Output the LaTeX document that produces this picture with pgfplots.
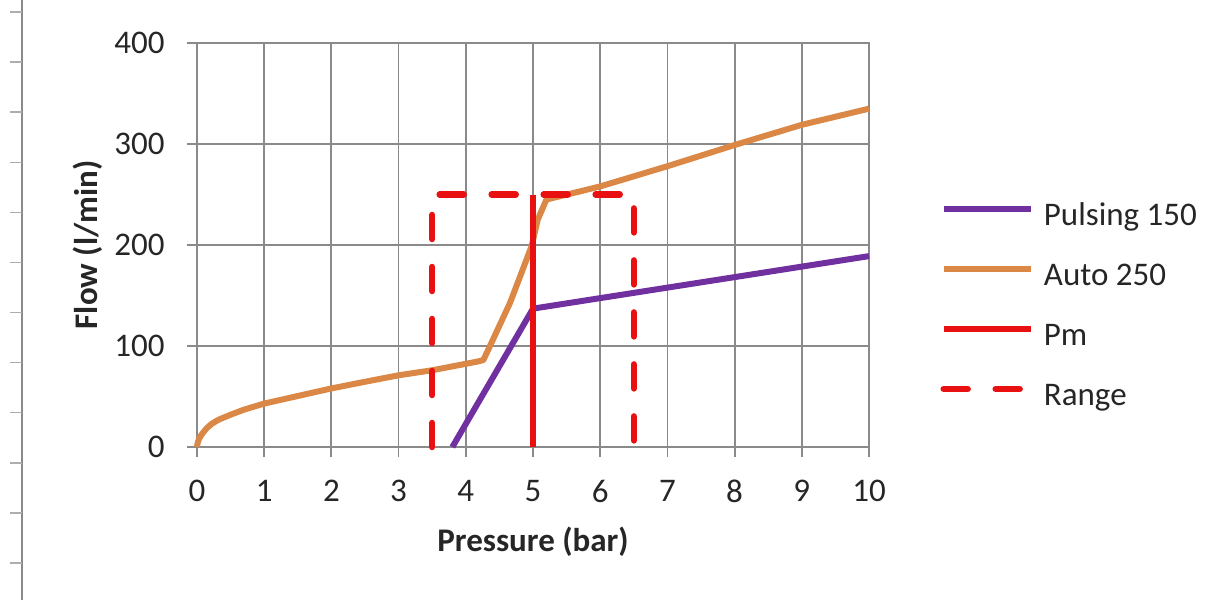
\documentclass[border=0pt]{standalone}
\usepackage{fontspec}
\setmainfont{Carlito}
\usepackage{pgfplots}
\pgfplotsset{compat=1.18}
\definecolor{pulse}{HTML}{7030A0}
\definecolor{autoc}{HTML}{DB8745}
\definecolor{pmred}{HTML}{E81010}
\definecolor{gridc}{HTML}{8A8A8A}
\definecolor{txt}{HTML}{262626}

\begin{document}
\fontsize{16.5}{19.8}\selectfont
\begin{tikzpicture}
\useasboundingbox (-98.5pt,-76.5pt) rectangle (512.5pt,223.5pt);
\begin{axis}[
  scale only axis, width=336pt, height=202pt,
  xmin=0, xmax=10, ymin=0, ymax=400,
  xtick={0,...,10}, ytick={0,100,...,400},
  xtick pos=left, ytick pos=left,
  grid=major, major grid style={gridc, line width=0.9pt},
  axis line style={gridc, line width=0.9pt},
  tick align=outside, major tick length=5pt,
  tick style={gridc, line width=0.9pt},
  /pgf/number format/assume math mode=true,
  tick label style={text=txt},
  xticklabel style={anchor=north, inner sep=0pt, yshift=-11.5pt},
  yticklabel style={anchor=east, inner sep=0pt, xshift=-11pt},
  xlabel={\bfseries Pressure (bar)},
  ylabel={\bfseries Flow (l/min)},
  xlabel style={at={(rel axis cs:0.5,-0.2342)}, anchor=center, text=txt},
  ylabel style={at={(rel axis cs:-0.1622,0.5)}, anchor=center, text=txt},
  clip=false,
  legend cell align=left,
  legend image code/.code={\draw[#1] (0pt,4pt) -- (43.5pt,4pt);},
  legend style={draw=none, fill=none, at={(rel axis cs:1.1057,0.3465)},
    anchor=west, inner sep=0pt, row sep=14pt, text=txt,
    nodes={text height=12pt, text depth=4pt, inner sep=0pt},
    /tikz/every odd column/.append style={column sep=5pt}},
]
\addplot[pulse, line width=3pt] coordinates {
  (3.8,0) (5,137) (10,189)
};
\addlegendentry{Pulsing 150}
\addplot[autoc, line width=3pt, line join=round] coordinates {
  (0,0) (0.01,4) (0.03,8) (0.06,11.5) (0.1,15) (0.15,19) (0.22,23)
  (0.32,27) (0.49,31.7) (0.7,37) (1,43)
  (1.5,50.5) (2,58) (2.5,64.6) (3,71) (3.5,76) (4.16,84.4) (4.26,86)
  (4.36,100) (4.66,143) (4.98,199) (5.07,225) (5.2,245)
  (6,258) (7,278) (8,299) (9,319) (10,335)
};
\addlegendentry{Auto 250}
\addplot[pmred, line width=3.25pt] coordinates {
  (5,0) (5,250)
};
\addlegendentry{Pm}
\addplot[pmred, line width=3.25pt, line cap=round, dash pattern=on 12pt off 14pt] coordinates {
  (3.5,0) (3.5,250) (6.5,250) (6.5,0)
};
\addlegendentry{Range}
\end{axis}
% outer frame edge on the left
\draw[gridc, line width=0.9pt] (-87.5pt,-76.5pt) -- (-87.5pt,223.5pt);
\foreach \y in {217.5,192.45,167.4,142.35,117.3,92.25,67.2,42.15,17.1,-7.95,-33,-58.05}
  \draw[gridc!70, line width=0.7pt] (-93.5pt,\y pt) -- (-87.5pt,\y pt);
\end{tikzpicture}
\end{document}
